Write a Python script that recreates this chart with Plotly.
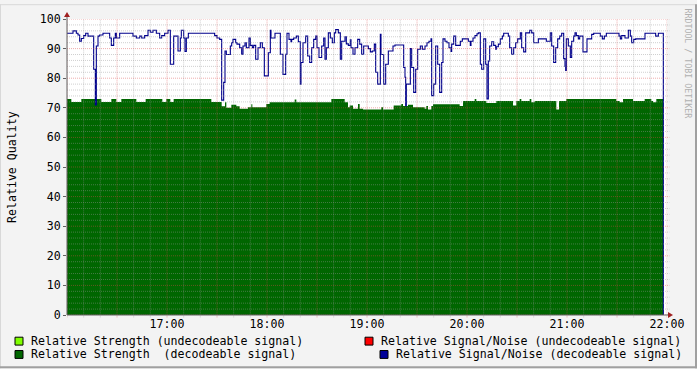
import plotly.graph_objects as go
import pandas as pd

# ---------------- data (minutes after 16:00, value) ----------------
START = "2024-01-01 16:00"
snr_minutes = [0, 3.6, 5.6, 6.6, 7.6, 8.6, 10.0, 11.2, 12.6, 16.0, 17.0, 17.6, 18.6, 19.6, 21.6, 25.6, 26.6, 28.0, 29.0, 29.6,
               31.6, 39.6, 41.6, 43.6, 44.8, 46.6, 48.6, 50.0, 51.6, 53.6, 55.6, 56.8, 58.6, 60.6, 62.0, 64.0, 66.6, 68.0, 68.6, 70.0,
               70.8, 71.6, 72.8, 88.6, 90.0, 91.6, 92.8, 94.0, 94.8, 95.6, 98.0, 98.8, 99.6, 101.2, 102.0, 103.6, 104.8, 105.6, 106.8, 107.6,
               109.2, 110.0, 111.2, 112.0, 113.2, 114.6, 116.0, 117.2, 118.4, 120.8, 122.0, 122.4, 124.8, 128.0, 129.6, 131.2, 132.0, 133.2, 134.4, 134.8,
               136.0, 137.6, 138.8, 140.0, 140.4, 141.6, 143.2, 144.4, 145.6, 146.8, 148.0, 149.2, 150.0, 151.2, 152.8, 154.0, 154.8, 155.6, 156.8, 158.0,
               159.2, 160.4, 161.2, 162.8, 164.0, 164.8, 166.8, 167.6, 168.8, 170.0, 170.4, 171.6, 172.8, 174.4, 175.6, 176.8, 178.0, 180.8, 182.0, 183.2,
               184.4, 185.2, 186.4, 188.0, 188.4, 190.0, 191.2, 192.8, 195.6, 196.8, 202.0, 202.8, 203.2, 203.6, 206.0, 206.8, 208.0, 209.2, 210.4, 212.0,
               213.2, 214.8, 216.0, 217.2, 218.4, 218.8, 220.0, 221.2, 222.4, 223.6, 224.8, 225.6, 226.8, 228.0, 229.2, 230.4, 230.8, 232.0, 233.2, 236.0,
               237.2, 240.8, 242.0, 242.4, 243.6, 244.8, 246.0, 246.8, 248.0, 248.8, 250.0, 251.2, 252.0, 252.8, 253.6, 254.8, 256.0, 257.2, 257.6, 258.8,
               260.0, 261.2, 262.0, 264.8, 265.6, 266.8, 268.0, 269.2, 270.4, 272.0, 272.8, 274.0, 275.2, 277.6, 278.8, 280.0, 282.8, 287.6, 290.0, 290.8,
               292.0, 293.2, 294.4, 295.6, 296.8, 298.0, 298.8, 299.2, 299.6, 300.8, 302.0, 302.8, 304.0, 304.8, 305.6, 306.8, 307.6, 309.6, 312.0, 314.8,
               316.0, 320.0, 321.2, 322.4, 323.6, 331.2, 332.0, 332.8, 334.8, 336.8, 338.0, 338.8, 340.0, 341.2, 346.8, 353.2, 354.8, 357.8]
snr_values = [95.2, 96.0, 95.2, 94.6, 92.5, 93.4, 94.4, 95.2, 94.2, 83.0, 71.0, 90.9, 94.2, 94.6, 95.2, 93.6, 91.1, 93.6, 95.2, 93.6,
              95.2, 94.2, 93.6, 94.2, 93.6, 94.4, 96.2, 95.5, 96.2, 95.2, 93.6, 94.4, 95.2, 96.2, 84.7, 94.2, 89.2, 93.6, 96.2, 93.6,
              89.0, 93.6, 95.2, 94.4, 93.6, 93.1, 72.6, 78.6, 89.2, 88.0, 90.9, 92.0, 93.1, 92.0, 91.5, 90.3, 88.1, 90.9, 92.0, 90.3,
              93.6, 91.1, 90.3, 91.1, 86.4, 90.3, 92.0, 90.3, 80.8, 88.6, 96.2, 93.6, 95.2, 88.1, 81.3, 88.1, 95.2, 93.1, 92.3, 93.1,
              93.6, 94.2, 92.3, 78.0, 85.3, 92.0, 94.2, 87.5, 85.3, 90.3, 93.1, 94.2, 90.3, 87.0, 90.9, 93.6, 86.4, 90.3, 95.3, 93.6,
              92.0, 95.3, 96.4, 95.3, 86.4, 92.5, 94.0, 91.6, 91.1, 93.0, 90.3, 88.1, 90.3, 93.1, 91.5, 88.1, 90.9, 90.0, 88.9, 89.2,
              91.5, 82.0, 78.0, 94.8, 88.0, 78.0, 84.7, 89.2, 90.9, 91.2, 83.6, 80.3, 70.7, 78.0, 90.0, 83.6, 75.2, 83.0, 89.8, 90.9,
              89.8, 90.9, 92.0, 92.5, 93.3, 74.1, 78.0, 90.9, 84.7, 75.2, 85.3, 93.3, 92.5, 92.0, 90.3, 89.0, 91.5, 94.2, 91.1, 92.5,
              93.3, 92.5, 91.1, 92.5, 93.6, 94.4, 95.0, 95.3, 84.7, 83.0, 93.3, 84.7, 73.0, 85.8, 90.9, 92.3, 91.1, 89.8, 90.6, 91.5,
              93.3, 94.2, 95.2, 94.2, 90.3, 88.1, 90.3, 92.0, 93.3, 95.3, 90.3, 88.9, 95.3, 96.2, 95.3, 92.0, 93.3, 92.5, 95.3, 90.9,
              85.3, 90.3, 93.3, 94.2, 95.2, 86.6, 84.0, 82.6, 93.3, 90.9, 87.0, 92.5, 94.2, 95.3, 94.4, 93.3, 94.2, 88.9, 93.3, 94.8,
              95.2, 94.2, 93.3, 94.2, 95.2, 94.2, 93.3, 94.4, 93.6, 96.2, 94.2, 92.0, 93.1, 93.3, 95.2, 94.2, 95.2, 0]

strength_minutes = [0, 2.6, 8.6, 20.6, 26.6, 29.6, 32.6, 41.6, 47.2, 57.2, 59.6, 62.0, 64.0, 86.6, 92.8, 94.8, 95.6, 98.6, 101.6, 103.6,
                    108.6, 110.6, 111.2, 119.6, 121.6, 136.6, 137.6, 158.6, 166.6, 168.6, 169.6, 171.6, 174.6, 175.6, 177.6, 188.6, 189.6, 196.0, 200.6, 201.6,
                    204.6, 207.6, 214.6, 215.6, 216.6, 218.6, 219.6, 235.6, 237.6, 244.6, 245.6, 251.6, 257.6, 267.6, 269.6, 271.6, 272.6, 277.6, 278.6, 280.6,
                    293.6, 295.2, 299.6, 329.6, 331.6, 333.6, 339.6, 346.6, 350.6, 351.6, 353.6, 357.8]
strength_values = [73.0, 72.0, 73.0, 72.0, 73.0, 72.0, 73.0, 72.0, 73.0, 72.0, 73.0, 72.0, 73.0, 72.0, 70.5, 71.9, 70.0, 71.0, 70.5, 69.7,
                   70.2, 71.2, 70.2, 71.3, 71.9, 72.8, 71.9, 73.0, 71.9, 70.2, 70.8, 69.7, 71.3, 69.7, 69.4, 70.2, 69.4, 70.8, 71.3, 70.6,
                   71.0, 70.2, 69.7, 70.6, 69.4, 70.6, 71.2, 70.6, 72.3, 73.0, 72.3, 71.6, 72.3, 70.8, 72.3, 73.0, 72.3, 73.0, 71.9, 72.3,
                   69.4, 72.3, 73.0, 72.3, 71.9, 73.0, 72.3, 73.0, 72.3, 71.9, 73.0, 73.0]

y_ticks = [0, 10, 20, 30, 40, 50, 60, 70, 80, 90, 100]
x_tick_labels = ["", "", "17:00", "", "18:00", "", "19:00", "", "20:00", "", "21:00", "", "22:00"]

legend_items = [
    ("Relative Strength (undecodeable signal)", "#80FF00"),
    ("Relative Strength\u00a0 (decodeable signal)", "#006600"),
    ("Relative Signal/Noise (undecodeable signal)", "#FF0000"),
    ("Relative Signal/Noise (decodeable signal)", "#000099"),
]

# ---------------- figure ----------------
base = pd.Timestamp(START)
def tt(mins):
    return [base + pd.Timedelta(minutes=float(m)) for m in mins]

W, H = 697, 369
L, R, T, B = 67, 30, 15, 54
PW, PH = W - L - R, H - T - B
def px(x):
    return (x - L) / PW
def py(y):
    return (H - B - y) / PH

FONT = "DejaVu Sans Mono"
GREEN = "#006600"
BLUE = "#00008C"

fig = go.Figure()
fig.add_trace(go.Scatter(x=tt(strength_minutes), y=strength_values, mode="lines",
                         line=dict(width=0, shape="hv", color=GREEN), fill="tozeroy",
                         fillcolor=GREEN, hoverinfo="skip", showlegend=False))
fig.add_trace(go.Scatter(x=tt(snr_minutes), y=snr_values, mode="lines",
                         line=dict(width=1.1, shape="hv", color=BLUE),
                         hoverinfo="skip", showlegend=False))

shapes = []
minor_col = "rgba(150,150,150,0.45)"
major_col = "rgba(220,70,70,0.45)"
# vertical grid
for m in range(0, 361, 10):
    col = major_col if m % 30 == 0 else minor_col
    t = base + pd.Timedelta(minutes=m)
    shapes.append(dict(type="line", xref="x", yref="paper", x0=t, x1=t, y0=-0.008, y1=1,
                       line=dict(color=col, width=1, dash="1px,1px"), layer="above"))
# horizontal grid
for v in range(0, 101, 2):
    col = major_col if v % 10 == 0 else minor_col
    shapes.append(dict(type="line", xref="paper", yref="y", x0=0, x1=1.004, y0=v, y1=v,
                       line=dict(color=col, width=1, dash="1px,1px"), layer="above"))
# axis lines
shapes.append(dict(type="line", xref="paper", yref="paper", x0=0, x1=px(670), y0=0, y1=0,
                   line=dict(color="#606060", width=1), layer="above"))
shapes.append(dict(type="line", xref="paper", yref="paper", x0=0, x1=0, y0=0, y1=py(11),
                   line=dict(color="#606060", width=1), layer="above"))
# arrows
shapes.append(dict(type="path", xref="paper", yref="paper",
                   path=f"M {px(668)} {py(312)} L {px(673)} {py(315)} L {px(668)} {py(318)} Z",
                   fillcolor="#A02020", line=dict(width=0), layer="above"))
shapes.append(dict(type="path", xref="paper", yref="paper",
                   path=f"M {px(64)} {py(13)} L {px(67)} {py(8)} L {px(70)} {py(13)} Z",
                   fillcolor="#A02020", line=dict(width=0), layer="above"))
# image border
shapes.append(dict(type="line", xref="paper", yref="paper", x0=px(0), x1=px(W), y0=py(0.5), y1=py(0.5),
                   line=dict(color="#D8D8D8", width=1)))
shapes.append(dict(type="line", xref="paper", yref="paper", x0=px(0.5), x1=px(0.5), y0=py(0), y1=py(H),
                   line=dict(color="#D8D8D8", width=1)))
shapes.append(dict(type="line", xref="paper", yref="paper", x0=px(W - 1), x1=px(W - 1), y0=py(0), y1=py(H),
                   line=dict(color="#A0A0A0", width=2)))
shapes.append(dict(type="line", xref="paper", yref="paper", x0=px(0), x1=px(W), y0=py(H - 1), y1=py(H - 1),
                   line=dict(color="#A0A0A0", width=2)))

annotations = []
# legend
leg_pos = [(15, 341.5), (15, 355), (365, 341.5), (380, 355)]
for (label, color), (sx, sy) in zip(legend_items, leg_pos):
    shapes.append(dict(type="rect", xref="paper", yref="paper",
                       x0=px(sx), x1=px(sx + 8), y0=py(sy - 4), y1=py(sy + 4),
                       fillcolor=color, line=dict(color="#000000", width=1)))
    annotations.append(dict(xref="paper", yref="paper", x=px(sx + 14), y=py(sy), text=label,
                            showarrow=False, xanchor="left", yanchor="middle",
                            font=dict(family=FONT, size=11.6, color="#000000")))
# y title
annotations.append(dict(xref="paper", yref="paper", x=px(12), y=py(165), text="Relative Quality",
                        showarrow=False, textangle=-90, xanchor="center", yanchor="middle",
                        font=dict(family=FONT, size=11.6, color="#000000")))
# watermark
annotations.append(dict(xref="paper", yref="paper", x=px(688), y=py(60), text="RRDTOOL / TOBI OETIKER",
                        showarrow=False, textangle=90, xanchor="center", yanchor="middle",
                        font=dict(family=FONT, size=8.3, color="#B0B0B0")))

tickvals = [base + pd.Timedelta(minutes=30 * i) for i in range(13)]

fig.update_layout(
    width=W, height=H,
    margin=dict(l=L, r=R, t=T, b=B, pad=0),
    paper_bgcolor="#F3F3F3", plot_bgcolor="#FFFFFF",
    showlegend=False,
    shapes=shapes, annotations=annotations,
    xaxis=dict(type="date", range=[base, base + pd.Timedelta(hours=6)],
               tickmode="array", tickvals=tickvals, ticktext=x_tick_labels,
               ticks="", showgrid=False, zeroline=False, showline=False,
               tickfont=dict(family=FONT, size=11.6, color="#000000")),
    yaxis=dict(range=[0, 100], tickmode="array", tickvals=y_ticks,
               ticks="outside", ticklen=3, tickcolor="#606060",
               showgrid=False, zeroline=False, showline=False,
               tickfont=dict(family=FONT, size=11.6, color="#000000")),
)

fig.write_html("out.html", config={"displayModeBar": False},
               post_script="document.body.style.margin='0';document.body.style.overflow='hidden';")
